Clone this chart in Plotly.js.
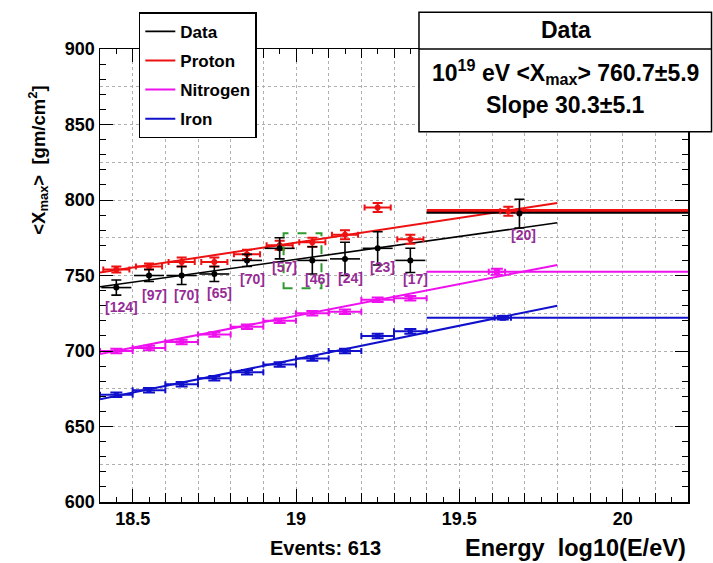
<!DOCTYPE html>
<html>
<head>
<meta charset="utf-8">
<script src="https://cdn.plot.ly/plotly-3.0.1.min.js"></script>
<style>html,body{margin:0;padding:0;background:#fff;}#chart{width:713px;height:563px;}</style>
</head>
<body>
<div id="chart"></div>
<script>
// ---- data ----
const binCenters = [18.45, 18.55, 18.65, 18.75, 18.85, 18.95, 19.05, 19.15, 19.25, 19.35];
const dataMean   = [742, 750, 750, 751, 760, 768, 760, 761, 768, 760];
const dataErr    = [5, 4, 6, 5, 4, 7, 9, 11, 11, 8];
const dataCounts = [124, 97, 70, 65, 70, 57, 46, 24, 23, 17];
const dataBinHalf = 0.046;

const protonMean = [754, 756, 759, 759, 764, 770, 772, 777, 795, 774];
const protonErr  = [2, 2, 3, 3, 3, 3, 3, 3, 3, 3];
const nitroMean  = [700, 702, 706, 711, 716, 720, 725, 726, 734, 735];
const nitroErr   = [1.5, 1.5, 1.5, 1.5, 1.5, 1.5, 1.5, 1.5, 1.5, 1.5];
const ironMean   = [671, 674, 678, 682, 686, 691, 695, 700, 710, 713];
const ironErr    = [1.5, 1.5, 1.5, 1.5, 1.5, 1.5, 1.5, 1.5, 1.5, 1.5];
const mcBinHalf = 0.05;

// last (wide) bin 19.4 - 20.2
const lastBin = [19.4, 20.2];
const lastX   = {data: 19.684, proton: 19.65, nitro: 19.615, iron: 19.633};
const lastVal = {data: 791, proton: 792.5, nitro: 752.5, iron: 722};
const lastErr = {data: 9.5, proton: 3, nitro: 2, iron: 1.2};
const lastCount = 20;
const lastLine = {data: 791.5, proton: 793, nitro: 752.5, iron: 722};

// linear fits (endpoints)
const fitX      = [18.4, 19.8];
const fitData   = [742.5, 784.9];
const fitProton = [752, 798];
const fitNitro  = [698, 757];
const fitIron   = [668, 730];

// fit summary
const fitAt19 = 760.7, fitAt19Err = 5.9, fitSlope = 30.3, fitSlopeErr = 5.1;
const totalEvents = 613;

const xTickVals = [18.5, 19, 19.5, 20];
const xTickText = ['18.5', '19', '19.5', '20'];
const yTickVals = [600, 650, 700, 750, 800, 850, 900];

// ---- styling ----
const BLACK = '#000000', RED = '#ee1111', MAG = '#ee11ee', BLUE = '#1111cc';
const PURPLE = '#962c96', GREEN = '#2f9a2f';
const FONT = 'Liberation Sans, Arial, Helvetica, sans-serif';
const XR = [18.4, 20.2], YR = [600, 900];

const traces = [];
function fit(x, y, color, name, w) {
  traces.push({x: x, y: y, mode: 'lines', name: name, legendgroup: name,
    line: {color: color, width: w}, hoverinfo: 'skip'});
}
function flat(v, color, w) {
  traces.push({x: lastBin, y: [v, v], mode: 'lines', showlegend: false,
    line: {color: color, width: w}, hoverinfo: 'skip'});
}
function pts(x, y, ey, ex, color, sym, size, capY, capX, thick) {
  traces.push({x: x, y: y, mode: 'markers', showlegend: false,
    marker: {color: color, symbol: sym, size: size},
    error_y: {type: 'data', array: ey, visible: true, color: color, thickness: thick, width: capY},
    error_x: {type: 'data', array: ex, visible: true, color: color, thickness: thick, width: capX}});
}

// empty carrier for the fine-tick overlay axes
traces.push({x: [], y: [], xaxis: 'x2', yaxis: 'y2', showlegend: false, hoverinfo: 'skip'});

fit(fitX, fitData, BLACK, 'Data', 1.6);
fit(fitX, fitProton, RED, 'Proton', 2);
fit(fitX, fitNitro, MAG, 'Nitrogen', 2);
fit(fitX, fitIron, BLUE, 'Iron', 2);

flat(lastLine.iron, BLUE, 2);
flat(lastLine.nitro, MAG, 2);
flat(lastLine.proton, RED, 3);
flat(lastLine.data, BLACK, 2);

const halfArr = (h) => binCenters.map(() => h);
pts(binCenters, ironMean, ironErr, halfArr(mcBinHalf), BLUE, 'square', 5, 6, 3, 2);
pts([lastX.iron], [lastVal.iron], [lastErr.iron], [0.025], BLUE, 'square', 6, 6, 3, 2);
pts(binCenters, nitroMean, nitroErr, halfArr(mcBinHalf), MAG, 'square', 5, 6, 3, 2);
pts([lastX.nitro], [lastVal.nitro], [lastErr.nitro], [0.025], MAG, 'square', 6, 6, 3, 2);
pts(binCenters, protonMean, protonErr, halfArr(0.04), RED, 'circle', 6, 5, 3, 2);
pts([lastX.proton], [lastVal.proton], [lastErr.proton], [0.025], RED, 'circle', 6, 5, 3, 2);
pts(binCenters, dataMean, dataErr, halfArr(dataBinHalf), BLACK, 'circle', 6, 5, 0, 1.6);
pts([lastX.data], [lastVal.data], [lastErr.data], [0], BLACK, 'circle', 6, 5, 0, 1.6);

const annotations = [];
const countFont = {family: FONT, size: 14, color: PURPLE, weight: 'bold'};
binCenters.forEach((x, i) => {
  annotations.push({x: x, y: dataMean[i], xref: 'x', yref: 'y',
    text: '[' + dataCounts[i] + ']', showarrow: false, yanchor: 'middle', yshift: -19, xshift: 5,
    font: countFont});
});
annotations.push({x: lastX.data, y: lastVal.data, xref: 'x', yref: 'y',
  text: '[' + lastCount + ']', showarrow: false, yanchor: 'middle', yshift: -21, xshift: 4,
  font: countFont});

// stats box text
const statFont = {family: FONT, size: 23, color: BLACK, weight: 'bold'};
annotations.push({xref: 'paper', yref: 'paper', x: 0.792, y: 1.041, text: 'Data',
  showarrow: false, xanchor: 'center', yanchor: 'middle', font: statFont});
annotations.push({xref: 'paper', yref: 'paper', x: 0.792, y: 0.949,
  text: '10<sup>19</sup> eV &lt;X<sub>max</sub>&gt; ' + fitAt19.toFixed(1) + '\u00b1' + fitAt19Err.toFixed(1),
  showarrow: false, xanchor: 'center', yanchor: 'middle', font: statFont});
annotations.push({xref: 'paper', yref: 'paper', x: 0.792, y: 0.877,
  text: 'Slope ' + fitSlope.toFixed(1) + '\u00b1' + fitSlopeErr.toFixed(1),
  showarrow: false, xanchor: 'center', yanchor: 'middle', font: statFont});

// axis titles
annotations.push({xref: 'paper', yref: 'paper', x: -0.105, y: 0.754, textangle: -90,
  text: '&lt;X<sub>max</sub>&gt;&nbsp;&nbsp;[gm/cm<sup>2</sup>]', showarrow: false,
  xanchor: 'center', yanchor: 'middle',
  font: {family: FONT, size: 18.5, color: BLACK, weight: 'bold'}});
annotations.push({xref: 'paper', yref: 'paper', x: 1.0, y: -0.101,
  text: 'Energy&nbsp;&nbsp;log10(E/eV)', showarrow: false, xanchor: 'right', yanchor: 'middle',
  font: {family: FONT, size: 23.5, color: BLACK, weight: 'bold'}});
annotations.push({xref: 'paper', yref: 'paper', x: 0.384, y: -0.101,
  text: 'Events: ' + totalEvents, showarrow: false, xanchor: 'center', yanchor: 'middle',
  font: {family: FONT, size: 20, color: BLACK, weight: 'bold'}});

const shapes = [
  {type: 'rect', xref: 'x', yref: 'y', x0: 18.962, x1: 19.078, y0: 741.5, y1: 778,
   line: {color: GREEN, width: 2, dash: 'dash'}},
  {type: 'rect', xref: 'paper', yref: 'paper', x0: 0.5425, x1: 1.04, y0: 0.8176, y1: 1.081,
   fillcolor: '#ffffff', line: {color: BLACK, width: 1.5}, layer: 'above'},
  {type: 'line', xref: 'paper', yref: 'paper', x0: 0.5425, x1: 1.04, y0: 1.0, y1: 1.0,
   line: {color: BLACK, width: 1.5}, layer: 'above'}
];

const gridStyle = {showgrid: true, gridcolor: '#b0b0b0', griddash: 'dot', gridwidth: 1};
const tickFont = {family: FONT, size: 18, color: BLACK, weight: 'bold'};

const layout = {
  width: 713, height: 563,
  margin: {l: 100, r: 25, t: 47, b: 61},
  paper_bgcolor: '#ffffff', plot_bgcolor: '#ffffff',
  font: {family: FONT, size: 18, color: BLACK},
  showlegend: true,
  legend: {x: 0.066, y: 1.081, xanchor: 'left', yanchor: 'top', bgcolor: '#ffffff',
    bordercolor: BLACK, borderwidth: 1.5, tracegroupgap: 4, itemwidth: 30,
    font: {family: FONT, size: 17, color: BLACK, weight: 'bold'}},
  xaxis: {range: XR, tickmode: 'array', tickvals: xTickVals, ticktext: xTickText,
    ticks: 'inside', ticklen: 13, tickcolor: BLACK, tickwidth: 1,
    showline: true, linecolor: BLACK, linewidth: 1.5, mirror: 'ticks',
    showgrid: false, zeroline: false, tickfont: tickFont,
    minor: Object.assign({tick0: 18.4, dtick: 0.1, ticks: 'inside', ticklen: 9, tickcolor: BLACK}, gridStyle)},
  xaxis2: {range: XR, overlaying: 'x', anchor: 'y2', side: 'bottom', tick0: 18.4, dtick: 0.05,
    ticks: 'inside', ticklen: 5, tickcolor: BLACK, tickwidth: 1, showticklabels: false,
    showline: false, mirror: 'ticks', showgrid: false, zeroline: false},
  yaxis: {range: YR, tickmode: 'array', tickvals: yTickVals,
    ticks: 'inside', ticklen: 13, tickcolor: BLACK, tickwidth: 1,
    showline: true, linecolor: BLACK, linewidth: 1.5, mirror: 'ticks',
    zeroline: false, tickfont: tickFont, showgrid: true, gridcolor: '#b0b0b0', griddash: 'dot', gridwidth: 1,
    minor: Object.assign({tick0: 600, dtick: 25, ticks: ''}, gridStyle)},
  yaxis2: {range: YR, overlaying: 'y', anchor: 'x2', side: 'left', tick0: 600, dtick: 10,
    ticks: 'inside', ticklen: 6, tickcolor: BLACK, tickwidth: 1, showticklabels: false,
    showline: false, mirror: 'ticks', showgrid: false, zeroline: false},
  annotations: annotations,
  shapes: shapes
};

Plotly.newPlot('chart', traces, layout, {displayModeBar: false, staticPlot: true});
</script>
</body>
</html>
